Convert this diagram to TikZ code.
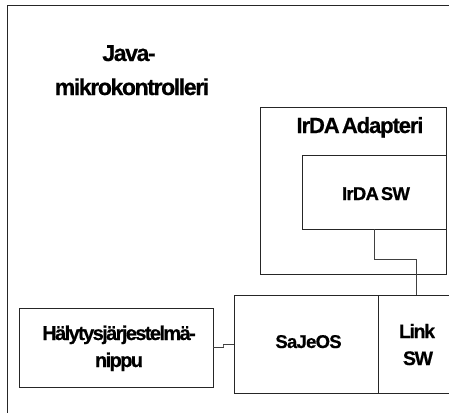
\documentclass[tikz,border=0pt]{standalone}
\usepackage{fontspec}
\setmainfont{Liberation Sans}[WordSpace=0.45,BoldFeatures={FakeBold=0.6}]
\begin{document}
\begin{tikzpicture}[x=1pt,y=-1pt,
  box/.style={draw=black!85,line width=0.9pt,minimum width=#1,inner sep=0pt},
  lbl/.style n args={2}{font=\bfseries\fontsize{#1}{#1}\selectfont\addfontfeature{LetterSpace=#2},anchor=base,inner sep=0pt},
  wire/.style={draw=black!75,line width=0.8pt}]
\useasboundingbox (0,0) rectangle (449,412);
\clip (0,0) rectangle (449,412);
\node[box=463pt,minimum height=427pt] (frame) at (238.5,218.5) {};
\node[box=186pt,minimum height=167pt] (adapter) at (353,190.5) {};
\node[box=144pt,minimum height=74pt] (irdasw) at (374,192) {};
\node[box=144pt,minimum height=98pt] (sajeos) at (306,344) {};
\node[box=102pt,minimum height=98pt] (link) at (429,344) {};
\node[box=194pt,minimum height=79pt] (haly) at (116,347.5) {};
\node[lbl={23pt}{-6}] (java1) at (129,61) {Java-};
\node[lbl={23pt}{-6}] (java2) at (132,95) {mikrokontrolleri};
\node[lbl={22pt}{-5}] (adlbl) at (360,133) {IrDA Adapteri};
\node[lbl={18.5pt}{-4}] (swlbl) at (376,200) {IrDA SW};
\node[lbl={18.5pt}{-4}] (sajlbl) at (308.5,348) {SaJeOS};
\node[lbl={19.5pt}{-7}] (link1) at (417,338) {Link};
\node[lbl={19.5pt}{-7}] (link2) at (418,365) {SW};
\node[lbl={20pt}{-8}] (haly1) at (119,340) {Hälytysjärjestelmä-};
\node[lbl={20pt}{-8}] (haly2) at (119,367) {nippu};
\coordinate (bend) at (416,259);
\coordinate (step) at (223,346);
\draw[wire] (irdasw.south) |- (bend) -- (bend |- link.north);
\draw[wire] (haly.east) -| (step) |- (sajeos.west);
\end{tikzpicture}
\end{document}
